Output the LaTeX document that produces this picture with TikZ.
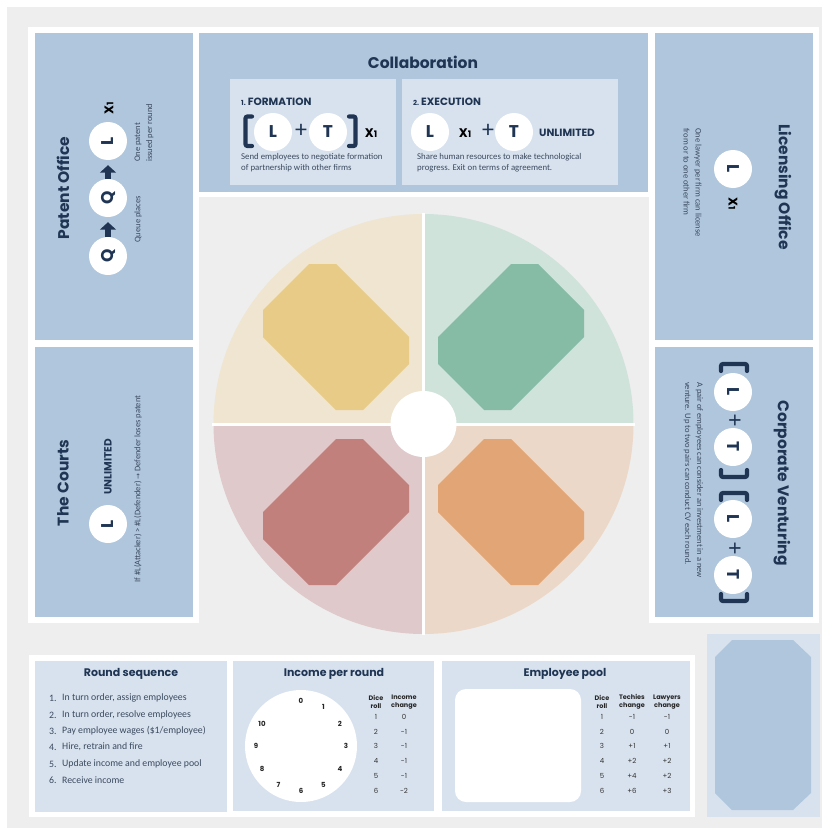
\documentclass[tikz,border=0pt]{standalone}
\usepackage{fontspec}
\setmainfont{Carlito}
\newfontfamily\tf{Poppins}
\newfontfamily\symfont{DejaVu Sans}
\usetikzlibrary{arrows.meta}

\definecolor{navy}{HTML}{1F3553}
\definecolor{pblue}{HTML}{AFC6DD}
\definecolor{lblue}{HTML}{D8E2EE}
\definecolor{bggray}{HTML}{EEEEEE}
\definecolor{bodytxt}{HTML}{3B4A5F}
\definecolor{qTL}{HTML}{EFE5D1}
\definecolor{qTR}{HTML}{D0E3DB}
\definecolor{qBL}{HTML}{DFC9CA}
\definecolor{qBR}{HTML}{ECD8C8}
\definecolor{oTL}{HTML}{E8CB86}
\definecolor{oTR}{HTML}{86BBA6}
\definecolor{oBL}{HTML}{C2807D}
\definecolor{oBR}{HTML}{E2A676}

\tikzset{
  panel/.style={fill=pblue},
  subbox/.style={fill=lblue},
  token/.style={circle, fill=white, minimum size=38pt, inner sep=0pt,
    font=\tf\bfseries\fontsize{17}{17}\selectfont, text=navy},
  ttl/.style={font=\tf\bfseries\fontsize{15.5}{16}\selectfont, text=navy, inner sep=0pt},
  subttl/.style={font=\tf\bfseries\fontsize{11}{12}\selectfont, text=navy, inner sep=0pt},
  caps/.style={font=\tf\bfseries\fontsize{10.5}{11}\selectfont, text=navy, inner sep=0pt},
  body/.style={font=\fontsize{8.8}{11}\selectfont, text=bodytxt, align=left, inner sep=0pt},
  sidebody/.style={font=\fontsize{8.5}{12}\selectfont, text=bodytxt, align=left, inner sep=0pt},
  plus/.style={font=\fontsize{24}{24}\selectfont, text=navy, inner sep=0pt},
  listtxt/.style={font=\fontsize{9.8}{11}\selectfont, text=bodytxt, anchor=west, inner sep=0pt},
  tabhead/.style={font=\tf\bfseries\fontsize{6.5}{7.5}\selectfont, text=black!85, align=center, inner sep=0pt},
  tabval/.style={font=\tf\fontsize{7}{8}\selectfont, text=black!80, inner sep=0pt},
  dialnum/.style={font=\tf\bfseries\fontsize{7}{8}\selectfont, text=black!85, inner sep=0pt},
  bracket/.style={draw=navy, line width=4.2pt, rounded corners=2pt, line cap=round},
  blockarrow/.style={draw=navy, line width=6.5pt, -{Triangle[width=16pt,length=7.5pt]},
    shorten >=5pt},
}

% a bold X followed by a smaller 1
\newcommand{\timesone}{{\tf\bfseries\fontsize{12.5}{12.5}\selectfont X\fontsize{9}{9}\selectfont 1}}

\begin{document}
\begin{tikzpicture}[x=1pt, y=-1pt]
\useasboundingbox (0,0) rectangle (829,835);
\fill[white] (0,0) rectangle (829,835);
\fill[bggray] (7,7) rectangle (822,828);

% white backing of the board frame
\fill[white] (28,27) rectangle (819,197);
\fill[white] (28,27) rectangle (199,623);
\fill[white] (649,27) rectangle (819,623);

% ---------- central wheel ----------
\coordinate (C) at (423.5,424);
\fill[qTL] (C) -- ++(-210,0) arc[start angle=180, end angle=270, radius=210] -- cycle;
\fill[qTR] (C) -- ++(0,-210) arc[start angle=270, end angle=360, radius=210] -- cycle;
\fill[qBR] (C) -- ++(210,0) arc[start angle=0, end angle=90, radius=210] -- cycle;
\fill[qBL] (C) -- ++(0,210) arc[start angle=90, end angle=180, radius=210] -- cycle;

% tilted card slots
\fill[oTL] (336,337) +(-27,-73) -- +(0,-73) -- +(73,0) -- +(73,27) -- +(27,73) -- +(0,73) -- +(-73,0) -- +(-73,-27) -- cycle;
\fill[oBR] (511,512) +(-27,-73) -- +(0,-73) -- +(73,0) -- +(73,27) -- +(27,73) -- +(0,73) -- +(-73,0) -- +(-73,-27) -- cycle;
\fill[oTR] (511,337) +(27,-73) -- +(0,-73) -- +(-73,0) -- +(-73,27) -- +(-27,73) -- +(0,73) -- +(73,0) -- +(73,-27) -- cycle;
\fill[oBL] (336,512) +(27,-73) -- +(0,-73) -- +(-73,0) -- +(-73,27) -- +(-27,73) -- +(0,73) -- +(73,0) -- +(73,-27) -- cycle;

\draw[white, line width=3pt] (423.5,213) -- (423.5,635);
\draw[white, line width=3pt] (212,424) -- (635,424);
\fill[white] (C) circle (33);

% ---------- Patent Office ----------
\fill[panel] (35,33) rectangle (193,340);
\node[ttl, rotate=90] (potitle) at (63,188) {Patent Office};
\node[token, rotate=90] (pl) at (108,141) {L};
\node[token, rotate=90] (pq1) at (108,198) {Q};
\node[token, rotate=90] (pq2) at (108,256) {Q};
\draw[blockarrow] (pq1) -- (pl);
\draw[blockarrow] (pq2) -- (pq1);
\node[rotate=90, inner sep=0pt] (px1) at (109,108) {\timesone};
\node[sidebody, rotate=90, anchor=west] (pnote) at (144,162) {One patent\\issued per round};
\node[sidebody, rotate=90, anchor=west] (qnote) at (138,243) {Queue places};

% ---------- Collaboration ----------
\fill[panel] (199,33) rectangle (648,192);
\node[ttl] (coltitle) at (423,62) {Collaboration};
\fill[subbox] (230,79) rectangle (396,185);
\fill[subbox] (402,79) rectangle (618,185);

\node[anchor=west, inner sep=0pt, text=navy] (formhead) at (241,102)
  {{\tf\bfseries\fontsize{7}{8}\selectfont 1.}\hspace{2pt}{\tf\bfseries\fontsize{10.5}{11}\selectfont FORMATION}};
\draw[bracket] (252,116.5) -- (245.5,116.5) -- (245.5,146) -- (252,146);
\node[token] (fl) at (273,132) {L};
\node[plus] (fplus) at (301,131) {+};
\node[token] (ft) at (328,132) {T};
\draw[bracket] (349,116.5) -- (355.5,116.5) -- (355.5,146) -- (349,146);
\node[inner sep=0pt] (fx1) at (371,133) {\timesone};
\node[body, anchor=west] (formtxt) at (241,162.5) {Send employees to negotiate formation\\of partnership with other firms};

\node[anchor=west, inner sep=0pt, text=navy] (exechead) at (413,102)
  {{\tf\bfseries\fontsize{7}{8}\selectfont 2.}\hspace{2pt}{\tf\bfseries\fontsize{10.5}{11}\selectfont EXECUTION}};
\node[token] (el) at (430,132) {L};
\node[inner sep=0pt] (ex1) at (465,133) {\timesone};
\node[plus] (eplus) at (488,131) {+};
\node[token] (et) at (514,132) {T};
\node[caps] (eunl) at (567,133) {UNLIMITED};
\node[body, anchor=west] (exectxt) at (417,162.5) {Share human resources to make technological\\progress. Exit on terms of agreement.};

% ---------- Licensing Office ----------
\fill[panel] (655,33) rectangle (813,340);
\node[ttl, rotate=-90] (litle) at (783,187) {Licensing Office};
\node[token, rotate=-90] (ll) at (733,169) {L};
\node[rotate=-90, inner sep=0pt] (lx1) at (733,204) {\timesone};
\node[sidebody, rotate=-90, anchor=west] (lnote) at (692.5,128) {One lawyer per firm can license\\from or to one other firm};

% ---------- The Courts ----------
\fill[panel] (35,347) rectangle (193,617);
\node[ttl, rotate=90] (ctitle) at (63,483) {The Courts};
\node[token, rotate=90] (cl) at (108,524) {L};
\node[caps, rotate=90] (cunl) at (108,467) {UNLIMITED};
\node[sidebody, rotate=90] (cnote) at (138,489) {If \#L(Attacker) > \#L(Defender) {\symfont\fontsize{7}{7}\selectfont →} Defender loses patent};

% ---------- Corporate Venturing ----------
\fill[panel] (655,347) rectangle (813,617);
\node[ttl, rotate=-90] (cvtitle) at (782,483) {Corporate Venturing};
\draw[bracket] (721,371) -- (721,364) -- (747,364) -- (747,371);
\node[token, rotate=-90] (cvl1) at (733,392) {L};
\node[plus, rotate=-90] (cvp1) at (734,420) {+};
\node[token, rotate=-90] (cvt1) at (733,447) {T};
\draw[bracket] (721,470) -- (721,477) -- (747,477) -- (747,470);
\draw[bracket] (721,500) -- (721,493) -- (747,493) -- (747,500);
\node[token, rotate=-90] (cvl2) at (733,519) {L};
\node[plus, rotate=-90] (cvp2) at (734,548) {+};
\node[token, rotate=-90] (cvt2) at (733,575) {T};
\draw[bracket] (721,594) -- (721,601) -- (747,601) -- (747,594);
\node[sidebody, rotate=-90, anchor=west] (cvnote) at (693.5,382) {A pair of employees can consider an investment in a new\\venture. Up to two pairs can conduct CV each round.};

% ---------- bottom reference cards ----------
\fill[white] (29,655) rectangle (695,817);
\fill[subbox] (35,661) rectangle (227,812);
\fill[subbox] (233,661) rectangle (434,811);
\fill[subbox] (442,661) rectangle (690,811);

% round sequence
\node[subttl] (rstitle) at (131,674) {Round sequence};
\foreach \i/\y/\t in {1/698/{In turn order, assign employees},
                      2/715/{In turn order, resolve employees},
                      3/731/{Pay employee wages (\$1\slash employee)},
                      4/747/{Hire, retrain and fire},
                      5/764/{Update income and employee pool},
                      6/780/{Receive income}}{
  \node[listtxt] (rsn\i) at (49,\y) {\i.};
  \node[listtxt] (rst\i) at (62,\y) {\t};
}

% income dial and table
\node[subttl] (inctitle) at (334,674) {Income per round};
\fill[white] (301,746) circle (56);
\foreach \k in {0,...,10}{
  \node[dialnum] (dial\k) at ({301+45*sin(30*\k)},{746-45*cos(30*\k)}) {\k};
}
\node[tabhead] (ih1) at (376,702) {Dice\\roll};
\node[tabhead] (ih2) at (404,702) {Income\\change};
\foreach \r/\y/\v in {1/717/0, 2/732/-1, 3/746/-1, 4/761/-1, 5/776/-1, 6/791/-2}{
  \node[tabval] (ir\r) at (376,\y) {\r};
  \node[tabval] (iv\r) at (404,\y) {\v};
}

% employee pool and table
\node[subttl] (eptitle) at (565,674) {Employee pool};
\fill[white, rounded corners=11pt] (455,689) rectangle (581,802);
\node[tabhead] (eh1) at (602,702) {Dice\\roll};
\node[tabhead] (eh2) at (632,702) {Techies\\change};
\node[tabhead] (eh3) at (667,702) {Lawyers\\change};
\foreach \r/\y/\a/\b in {1/717/-1/-1, 2/732/0/0, 3/746/+1/+1, 4/761/+2/+2, 5/776/+4/+2, 6/791/+6/+3}{
  \node[tabval] (er\r) at (602,\y) {\r};
  \node[tabval] (ea\r) at (632,\y) {\a};
  \node[tabval] (eb\r) at (667,\y) {\b};
}

% deck card
\fill[subbox] (707,634) rectangle (820,817);
\fill[pblue] (732,640) -- (793,640) -- (811,657) -- (811,793) -- (793,810) -- (732,810) -- (715,793) -- (715,657) -- cycle;

\end{tikzpicture}
\end{document}
